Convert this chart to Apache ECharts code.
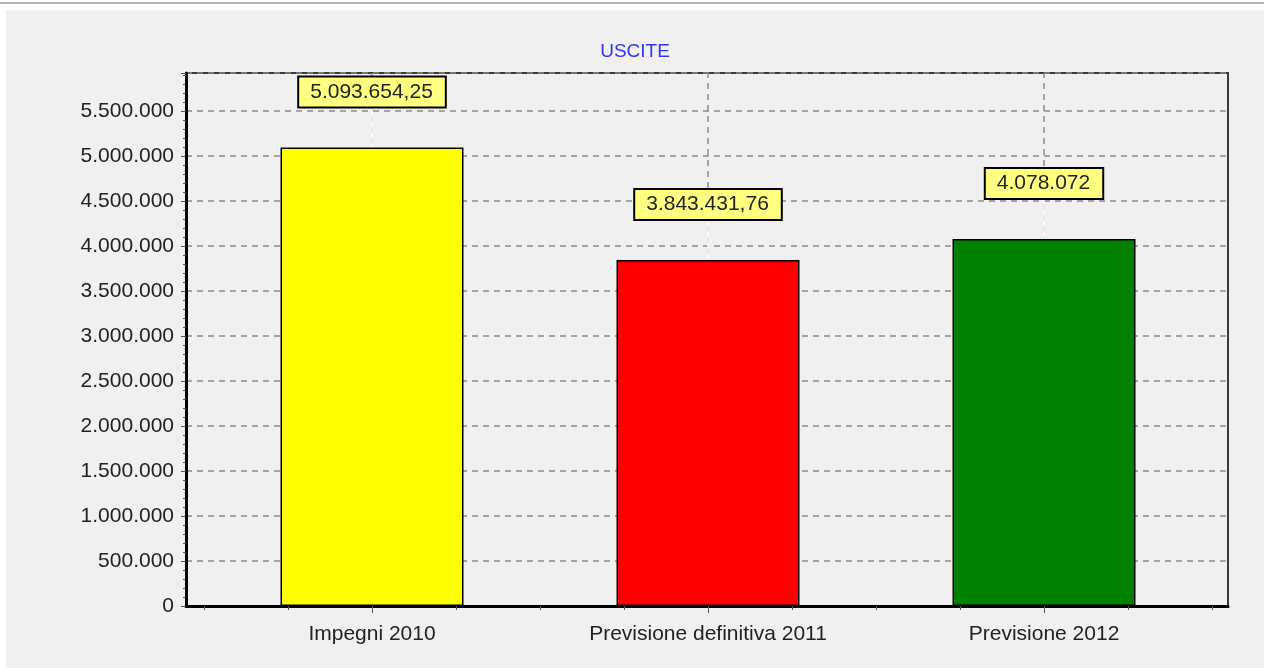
<!DOCTYPE html>
<html>
<head>
<meta charset="utf-8">
<title>USCITE</title>
<script src="https://cdn.jsdelivr.net/npm/echarts@6/dist/echarts.min.js"></script>
<style>
  html, body { margin: 0; padding: 0; background: #ffffff; width: 1264px; height: 668px; overflow: hidden; }
  #topline { position: absolute; left: 0; top: 2px; width: 1264px; height: 2px; background: #b4b4b4; }
  #chart { position: absolute; left: 6px; top: 10px; width: 1258px; height: 658px; }
</style>
</head>
<body>
<div id="topline"></div>
<div id="chart"></div>
<script>
// dati
var categories = ['Impegni 2010', 'Previsione definitiva 2011', 'Previsione 2012'];
var values = [5093654.25, 3843431.76, 4078072];
var barColors = ['#ffff00', '#ff0000', '#008000'];
var titleText = 'USCITE';

// formato italiano: 5.093.654,25
function fmt (v) {
  var s = Number.isInteger(v) ? String(v) : v.toFixed(2);
  var parts = s.split('.');
  var intPart = parts[0].replace(/\B(?=(\d{3})+(?!\d))/g, '.');
  return parts.length > 1 ? intPart + ',' + parts[1] : intPart;
}

var font = "'Liberation Sans', Arial, sans-serif";
var xMin = -0.5536, xMax = 2.5476;
var yMax = 5922222;
var labelGap = 41;           // px tra barra ed etichetta
var plotHeight = 533;        // altezza area grafico in px
var gapValue = labelGap / plotHeight * yMax;
var quarterTicks = [];
for (var q = -2; q <= 10; q++) quarterTicks.push(q / 4);
var centers = categories.map(function (c, i) { return i; });

// linee verticali tratteggiate + segmenti bianchi di collegamento
var markData = centers.map(function (i) { return { xAxis: i }; });
values.forEach(function (v, i) {
  markData.push([
    { coord: [i, v], lineStyle: { color: '#ffffff', width: 1.5, type: 'solid' } },
    { coord: [i, v + gapValue] }
  ]);
});

var myChart = echarts.init(document.getElementById('chart'));
var option = {
  backgroundColor: '#f0f0f0',
  animation: false,
  textStyle: { fontFamily: font },
  title: {
    text: titleText,
    left: 'center',
    top: 27,
    textStyle: { color: '#3333ff', fontSize: 19, fontWeight: 'normal', fontFamily: font }
  },
  grid: {
    left: 180, right: 36, top: 63, bottom: 62,
    show: true,
    backgroundColor: '#f0f0f0',
    borderColor: '#3a3a3a',
    borderWidth: 2
  },
  xAxis: [
    {
      type: 'value', min: xMin, max: xMax, position: 'bottom',
      axisLine: { show: true, onZero: false, lineStyle: { color: '#000', width: 3 } },
      axisTick: { show: true, customValues: quarterTicks, length: 4, lineStyle: { color: '#555', width: 1 } },
      axisLabel: { show: false },
      splitLine: { show: false }
    },
    {
      type: 'value', min: xMin, max: xMax, position: 'bottom', offset: 0,
      axisLine: { show: false, onZero: false },
      axisTick: { show: true, customValues: centers, length: 7, lineStyle: { color: '#555', width: 1 } },
      axisLabel: {
        customValues: centers,
        formatter: function (v) { return categories[Math.round(v)]; },
        fontSize: 21, color: '#222', margin: 18, fontFamily: font
      },
      splitLine: { show: false }
    }
  ],
  yAxis: {
    type: 'value',
    min: 0,
    max: yMax,
    interval: 500000,
    axisLine: { show: true, onZero: false, lineStyle: { color: '#000', width: 3 } },
    axisTick: { show: true, length: 5, lineStyle: { color: '#555', width: 1 } },
    minorTick: { show: true, splitNumber: 5, length: 3, lineStyle: { color: '#555', width: 1 } },
    axisLabel: {
      formatter: fmt, showMaxLabel: false,
      fontSize: 21, color: '#222', margin: 12, fontFamily: font
    },
    splitLine: { show: true, lineStyle: { color: '#8a8a8a', width: 1.5, type: [6, 5] } }
  },
  series: [
    {
      type: 'bar',
      xAxisIndex: 0,
      barWidth: 183,
      data: values.map(function (v, i) {
        return { value: [i, v], itemStyle: { color: barColors[i] } };
      }),
      itemStyle: { borderColor: '#000', borderWidth: 1.5 },
      label: {
        show: true,
        position: 'top',
        distance: labelGap,
        formatter: function (p) { return fmt(p.value[1]); },
        backgroundColor: '#ffff80',
        borderColor: '#000',
        borderWidth: 2,
        padding: [4, 12, 4, 11],
        fontSize: 21,
        color: '#222',
        fontFamily: font
      },
      markLine: {
        silent: true,
        symbol: 'none',
        z: 1,
        label: { show: false },
        lineStyle: { color: '#8a8a8a', width: 1.5, type: [6, 5] },
        data: markData
      }
    }
  ]
};
myChart.setOption(option);
window.addEventListener('resize', myChart.resize);
</script>
</body>
</html>
